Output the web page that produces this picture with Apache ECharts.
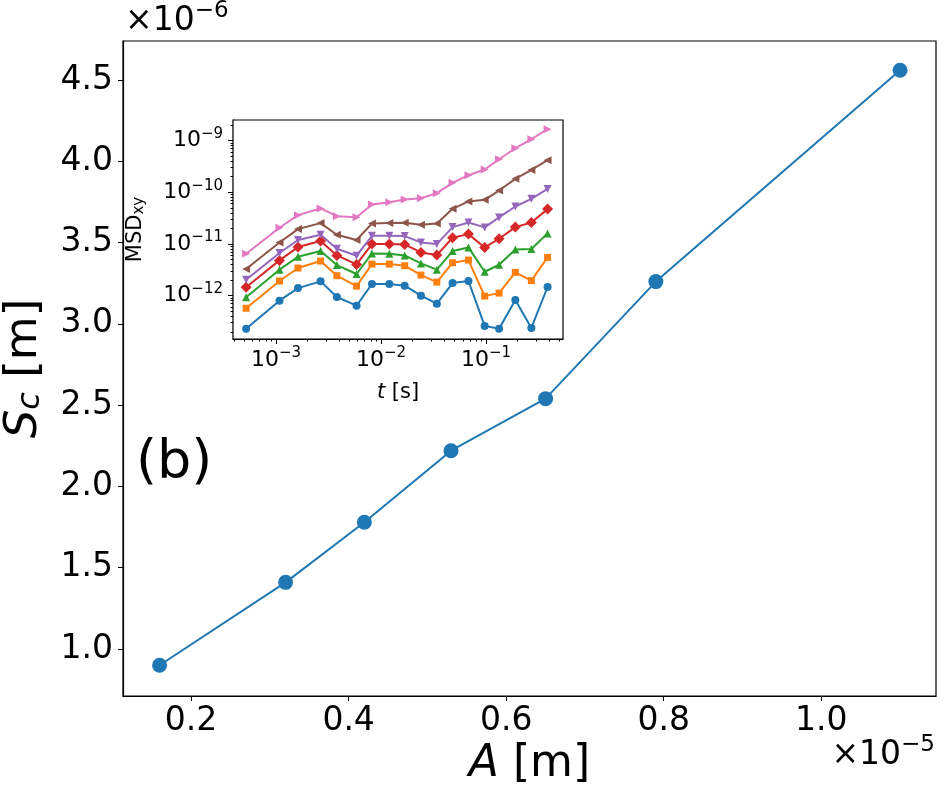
<!DOCTYPE html>
<html>
<head>
<meta charset="utf-8">
<script src="https://cdn.jsdelivr.net/npm/echarts@6/dist/echarts.min.js"></script>
<style>
  html, body { margin: 0; padding: 0; background: #fff; }
  #chart { width: 949px; height: 798px; }
</style>
</head>
<body>
<div id="chart"></div>
<script>
// main panel: A in units of 1e-5 m, S_c in units of 1e-6 m
var ampValues = [0.16, 0.32, 0.42, 0.53, 0.65, 0.79, 1.10];
var scValues = [0.90, 1.41, 1.78, 2.22, 2.54, 3.26, 4.56];
var mainXTicks = [0.2, 0.4, 0.6, 0.8, 1.0];
var mainYTicks = [1.0, 1.5, 2.0, 2.5, 3.0, 3.5, 4.0, 4.5];

// inset: lag times [s] and MSD_xy curves [m^2]
var lagTimes = [5.2e-4, 1.08e-3, 1.62e-3, 2.66e-3, 3.8e-3, 5.85e-3, 8.2e-3, 1.2e-2, 1.68e-2,
    2.4e-2, 3.4e-2, 4.8e-2, 6.8e-2, 9.7e-2, 0.133, 0.19, 0.27, 0.385];
var msd1 = [2.3e-13, 8.0e-13, 1.40e-12, 1.89e-12, 9.4e-13, 6.4e-13, 1.68e-12, 1.68e-12, 1.56e-12,
    1.0e-12, 7.0e-13, 1.75e-12, 1.92e-12, 2.6e-13, 2.3e-13, 8.2e-13, 2.37e-13, 1.47e-12];
var msd2 = [5.7e-13, 1.92e-12, 3.42e-12, 4.67e-12, 2.43e-12, 1.53e-12, 4.08e-12, 4.08e-12, 3.79e-12,
    2.5e-12, 1.83e-12, 4.33e-12, 4.88e-12, 9.8e-13, 1.12e-12, 2.82e-12, 1.95e-12, 5.5e-12];
var msd3 = [9.3e-13, 3.18e-12, 5.66e-12, 7.28e-12, 3.91e-12, 2.62e-12, 6.56e-12, 6.47e-12, 6.01e-12,
    4.21e-12, 3.18e-12, 7.28e-12, 8.57e-12, 2.9e-12, 3.96e-12, 7.84e-12, 7.96e-12, 1.6e-11];
var msd4 = [1.45e-12, 4.81e-12, 8.7e-12, 1.14e-11, 6.0e-12, 4.02e-12, 9.93e-12, 9.93e-12, 9.8e-12,
    6.86e-12, 6.1e-12, 1.32e-11, 1.55e-11, 8.57e-12, 1.26e-11, 2.12e-11, 2.6e-11, 4.72e-11];
var msd5 = [2.03e-12, 6.67e-12, 1.19e-11, 1.51e-11, 8.07e-12, 5.92e-12, 1.44e-11, 1.44e-11, 1.42e-11,
    1.07e-11, 9.93e-12, 2.12e-11, 2.6e-11, 2.09e-11, 3.26e-11, 5.31e-11, 7.47e-11, 1.16e-10];
var msd6 = [3.27e-12, 1.07e-11, 1.94e-11, 2.53e-11, 1.51e-11, 1.19e-11, 2.49e-11, 2.53e-11, 2.57e-11,
    2.35e-11, 2.49e-11, 4.79e-11, 6.64e-11, 7.14e-11, 1.08e-10, 1.82e-10, 2.71e-10, 4.17e-10];
var msd7 = [6.47e-12, 2.06e-11, 3.61e-11, 4.86e-11, 3.45e-11, 3.3e-11, 5.8e-11, 6.44e-11, 7.25e-11,
    7.69e-11, 9.6e-11, 1.52e-10, 2.14e-10, 2.75e-10, 4.36e-10, 7.11e-10, 1.06e-9, 1.66e-9];
var insetXTicks = [1e-3, 1e-2, 1e-1];
var insetYTicks = [1e-12, 1e-11, 1e-10, 1e-9];

var colors = ['#1f77b4', '#ff7f0e', '#2ca02c', '#d62728', '#9467bd', '#8c564b', '#e377c2'];
var msdCurves = [msd1, msd2, msd3, msd4, msd5, msd6, msd7];
var markers = [ // 标记形状：圆、方、上三角、菱形、下三角、左三角、右三角
    {symbol: 'circle', size: 8, rotate: 0},
    {symbol: 'rect', size: 7, rotate: 0},
    {symbol: 'triangle', size: 8, rotate: 0},
    {symbol: 'diamond', size: 11, rotate: 0},
    {symbol: 'triangle', size: 8, rotate: 180},
    {symbol: 'triangle', size: 8, rotate: 90},
    {symbol: 'triangle', size: 8, rotate: -90}
];

// minor ticks of the log axes (2..9 of every decade inside the range)
function minorTicks(lo, hi) {
    var out = [];
    for (var e = -14; e <= 0; e++) {
        for (var k = 2; k <= 9; k++) {
            var v = k * Math.pow(10, e);
            if (v >= lo && v <= hi) out.push(v);
        }
    }
    return out;
}

var FONT = 'DejaVu Sans';
var powRich = {
    b: {fontFamily: FONT, fontSize: 22, color: '#000'},
    s: {fontFamily: FONT, fontSize: 15, color: '#000', padding: [0, 0, 13, 0]}
};
function powLabel(value) {
    var e = Math.round(Math.log(value) / Math.LN10);
    return '{b|10}{s|' + (e < 0 ? '\u2212' + (-e) : e) + '}';
}

var insetXMin = 3.9e-4, insetXMax = 0.54;
var insetYMin = 1.45e-13, insetYMax = 2.5e-9;

var series = [{
    type: 'line',
    xAxisIndex: 0,
    yAxisIndex: 0,
    data: ampValues.map(function (a, i) { return [a, scValues[i]]; }),
    symbol: 'circle',
    symbolSize: 15,
    lineStyle: {color: colors[0], width: 2},
    itemStyle: {color: colors[0]},
    z: 2
}];
for (var c = 0; c < msdCurves.length; c++) {
    series.push({
        type: 'line',
        xAxisIndex: 1,
        yAxisIndex: 1,
        data: lagTimes.map(function (t, i) { return [t, msdCurves[c][i]]; }),
        symbol: markers[c].symbol,
        symbolSize: markers[c].size,
        symbolRotate: markers[c].rotate,
        lineStyle: {color: colors[c], width: 2},
        itemStyle: {color: colors[c]},
        z: 10
    });
}

var option = {
    animation: false,
    backgroundColor: '#fff',
    grid: [
        {left: 123, top: 41, width: 813, height: 655, show: true, borderColor: '#000', borderWidth: 1.2,
            backgroundColor: '#fff', outerBoundsMode: 'none', containLabel: false},
        {left: 233, top: 120, width: 330, height: 219, show: true, borderColor: '#000', borderWidth: 1.2,
            backgroundColor: '#fff', z: 5, outerBoundsMode: 'none', containLabel: false}
    ],
    xAxis: [
        {
            type: 'value', gridIndex: 0, min: 0.1136, max: 1.1456,
            name: '{i|A} [m]', nameLocation: 'middle', nameGap: 46,
            nameTextStyle: {fontFamily: FONT, fontSize: 44, color: '#000',
                rich: {i: {fontFamily: FONT, fontSize: 44, fontStyle: 'italic', color: '#000'}}},
            axisLine: {lineStyle: {color: '#000', width: 1.2}},
            axisTick: {length: 5, lineStyle: {color: '#000'}, customValues: mainXTicks},
            axisLabel: {customValues: mainXTicks, fontFamily: FONT, fontSize: 33, color: '#000', margin: 9,
                formatter: function (v) { return v.toFixed(1); }},
            splitLine: {show: false}
        },
        {
            type: 'log', gridIndex: 1, logBase: 10, min: insetXMin, max: insetXMax, position: 'bottom',
            name: '{i|t} [s]', nameLocation: 'middle', nameGap: 43,
            nameTextStyle: {fontFamily: FONT, fontSize: 21, color: '#000',
                rich: {i: {fontFamily: FONT, fontSize: 21, fontStyle: 'italic', color: '#000'}}},
            axisLine: {lineStyle: {color: '#000', width: 1.2}},
            axisTick: {length: 5, lineStyle: {color: '#000'}, customValues: insetXTicks},
            axisLabel: {customValues: insetXTicks, margin: 7, formatter: powLabel, rich: powRich},
            splitLine: {show: false}, minorTick: {show: false}
        },
        {
            type: 'log', gridIndex: 1, logBase: 10, min: insetXMin, max: insetXMax, position: 'bottom',
            axisLine: {show: false},
            axisTick: {length: 2.5, lineStyle: {color: '#000'}, customValues: minorTicks(insetXMin, insetXMax)},
            axisLabel: {show: false},
            splitLine: {show: false}
        }
    ],
    yAxis: [
        {
            type: 'value', gridIndex: 0, min: 0.711, max: 4.74,
            name: '{i|S}{sub|c} [m]', nameLocation: 'middle', nameGap: 76,
            nameTextStyle: {fontFamily: FONT, fontSize: 45, color: '#000',
                rich: {
                    i: {fontFamily: FONT, fontSize: 45, fontStyle: 'italic', color: '#000'},
                    sub: {fontFamily: FONT, fontSize: 32, fontStyle: 'italic', color: '#000', padding: [14, 0, 0, 0]}
                }},
            axisLine: {lineStyle: {color: '#000', width: 1.2}},
            axisTick: {length: 5, lineStyle: {color: '#000'}, customValues: mainYTicks},
            axisLabel: {customValues: mainYTicks, fontFamily: FONT, fontSize: 33, color: '#000', margin: 10,
                formatter: function (v) { return v.toFixed(1); }},
            splitLine: {show: false}
        },
        {
            type: 'log', gridIndex: 1, logBase: 10, min: insetYMin, max: insetYMax, position: 'left',
            name: 'MSD{sub|xy}', nameLocation: 'middle', nameGap: 86,
            nameTextStyle: {fontFamily: FONT, fontSize: 21, color: '#000',
                rich: {sub: {fontFamily: FONT, fontSize: 15, color: '#000', padding: [8, 0, 0, 0]}}},
            axisLine: {lineStyle: {color: '#000', width: 1.2}},
            axisTick: {length: 5, lineStyle: {color: '#000'}, customValues: insetYTicks},
            axisLabel: {customValues: insetYTicks, margin: 10, formatter: powLabel, rich: powRich},
            splitLine: {show: false}, minorTick: {show: false}
        },
        {
            type: 'log', gridIndex: 1, logBase: 10, min: insetYMin, max: insetYMax, position: 'left',
            axisLine: {show: false},
            axisTick: {length: 2.5, lineStyle: {color: '#000'}, customValues: minorTicks(insetYMin, insetYMax)},
            axisLabel: {show: false},
            splitLine: {show: false}
        }
    ],
    graphic: [
        { // y 轴偏移量
            type: 'text', left: 125, top: 0,
            style: {text: '{b|\u00d710}{s|\u22126}', rich: {
                b: {fontFamily: FONT, fontSize: 33, fill: '#000'},
                s: {fontFamily: FONT, fontSize: 23, fill: '#000', padding: [0, 0, 19, 0]}
            }}
        },
        { // x 轴偏移量
            type: 'text', right: 14, top: 734,
            style: {text: '{b|\u00d710}{s|\u22125}', rich: {
                b: {fontFamily: FONT, fontSize: 33, fill: '#000'},
                s: {fontFamily: FONT, fontSize: 23, fill: '#000', padding: [0, 0, 19, 0]}
            }}
        },
        {
            type: 'text', left: 136, top: 437,
            style: {text: '(b)', fontFamily: FONT, fontSize: 54, fill: '#000'}
        }
    ],
    series: series
};

var myChart = echarts.init(document.getElementById('chart'));
myChart.setOption(option);
</script>
</body>
</html>
